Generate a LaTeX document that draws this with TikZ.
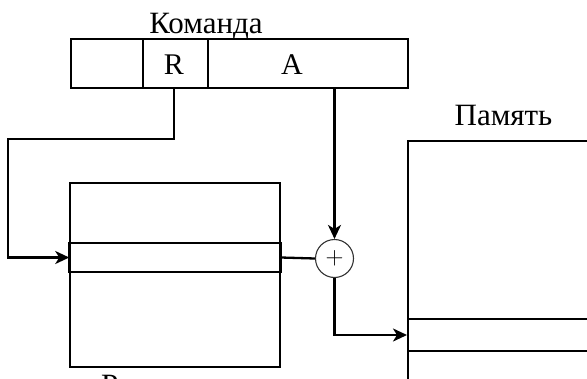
\documentclass[tikz,border=0pt]{standalone}
\usepackage{fontspec}
\setmainfont{Liberation Serif}
\usepackage{tikz}
\usetikzlibrary{arrows.meta,calc}
\definecolor{cizgi}{HTML}{000000}
\definecolor{daire}{HTML}{333333}

\begin{document}
\begin{tikzpicture}[x=1pt,y=-1pt,
  alan/.style={draw=cizgi,line width=2.3pt,inner sep=0pt,minimum height=49pt},
  kutu/.style={draw=cizgi,inner sep=0pt},
  yazi/.style={font=\fontsize{31}{34}\selectfont,anchor=base},
  harf/.style={font=\fontsize{30}{32}\selectfont,anchor=base},
  ok/.style={line width=2.3pt,-{Stealth[length=14pt,width=13pt,inset=4pt]}}]
\useasboundingbox (0,0) rectangle (587,378);
% komanda
\node[alan,minimum width=72pt] (f1) at (107,63.5) {};
\node[alan,minimum width=65pt] (fR) at (175.5,63.5) {};
\node[alan,minimum width=200pt] (fA) at (308,63.5) {};
\node[harf] (lblR) at (174,74) {R};
\node[harf] (lblA) at (292,74) {A};
\node[yazi] (komlbl) at (206,33) {Команда};
% registry
\node[kutu,line width=1.5pt,minimum width=210pt,minimum height=184pt] (reg) at (175,275) {};
\node[kutu,line width=1.5pt,minimum width=210pt,minimum height=29pt] (regrow) at (175,257.5) {};
\draw[line width=2.8pt] (regrow.north west) -- (regrow.south west)
  (regrow.north east) -- (regrow.south east);
\node[yazi] (reglbl) at (163,395) {Регистры};
% summator
\node[circle,draw=daire,line width=1.1pt,minimum size=38pt,inner sep=0pt,font=\fontsize{24}{26}\selectfont] (sum) at (334.5,258.5) {$+$};
% pamyat
\node[kutu,line width=2.3pt,minimum width=220pt,minimum height=300pt,anchor=north west] (mem) at (407,140) {};
\node[kutu,line width=2.3pt,minimum width=220pt,minimum height=32pt,anchor=west] (memrow) at (407,335) {};
\node[yazi] (memlbl) at (503.5,125) {Память};
% baglantilar
\draw[ok] (fR.south -| lblR) -- ++(0,50) -| ([xshift=-61pt]regrow.west) -- (regrow.west);
\draw[ok] (fA.south -| sum.north) -- (sum.north);
\draw[line width=2.3pt] (regrow.east) -- (sum.west);
\draw[ok] (sum.south) |- (memrow.west);
\end{tikzpicture}
\end{document}
